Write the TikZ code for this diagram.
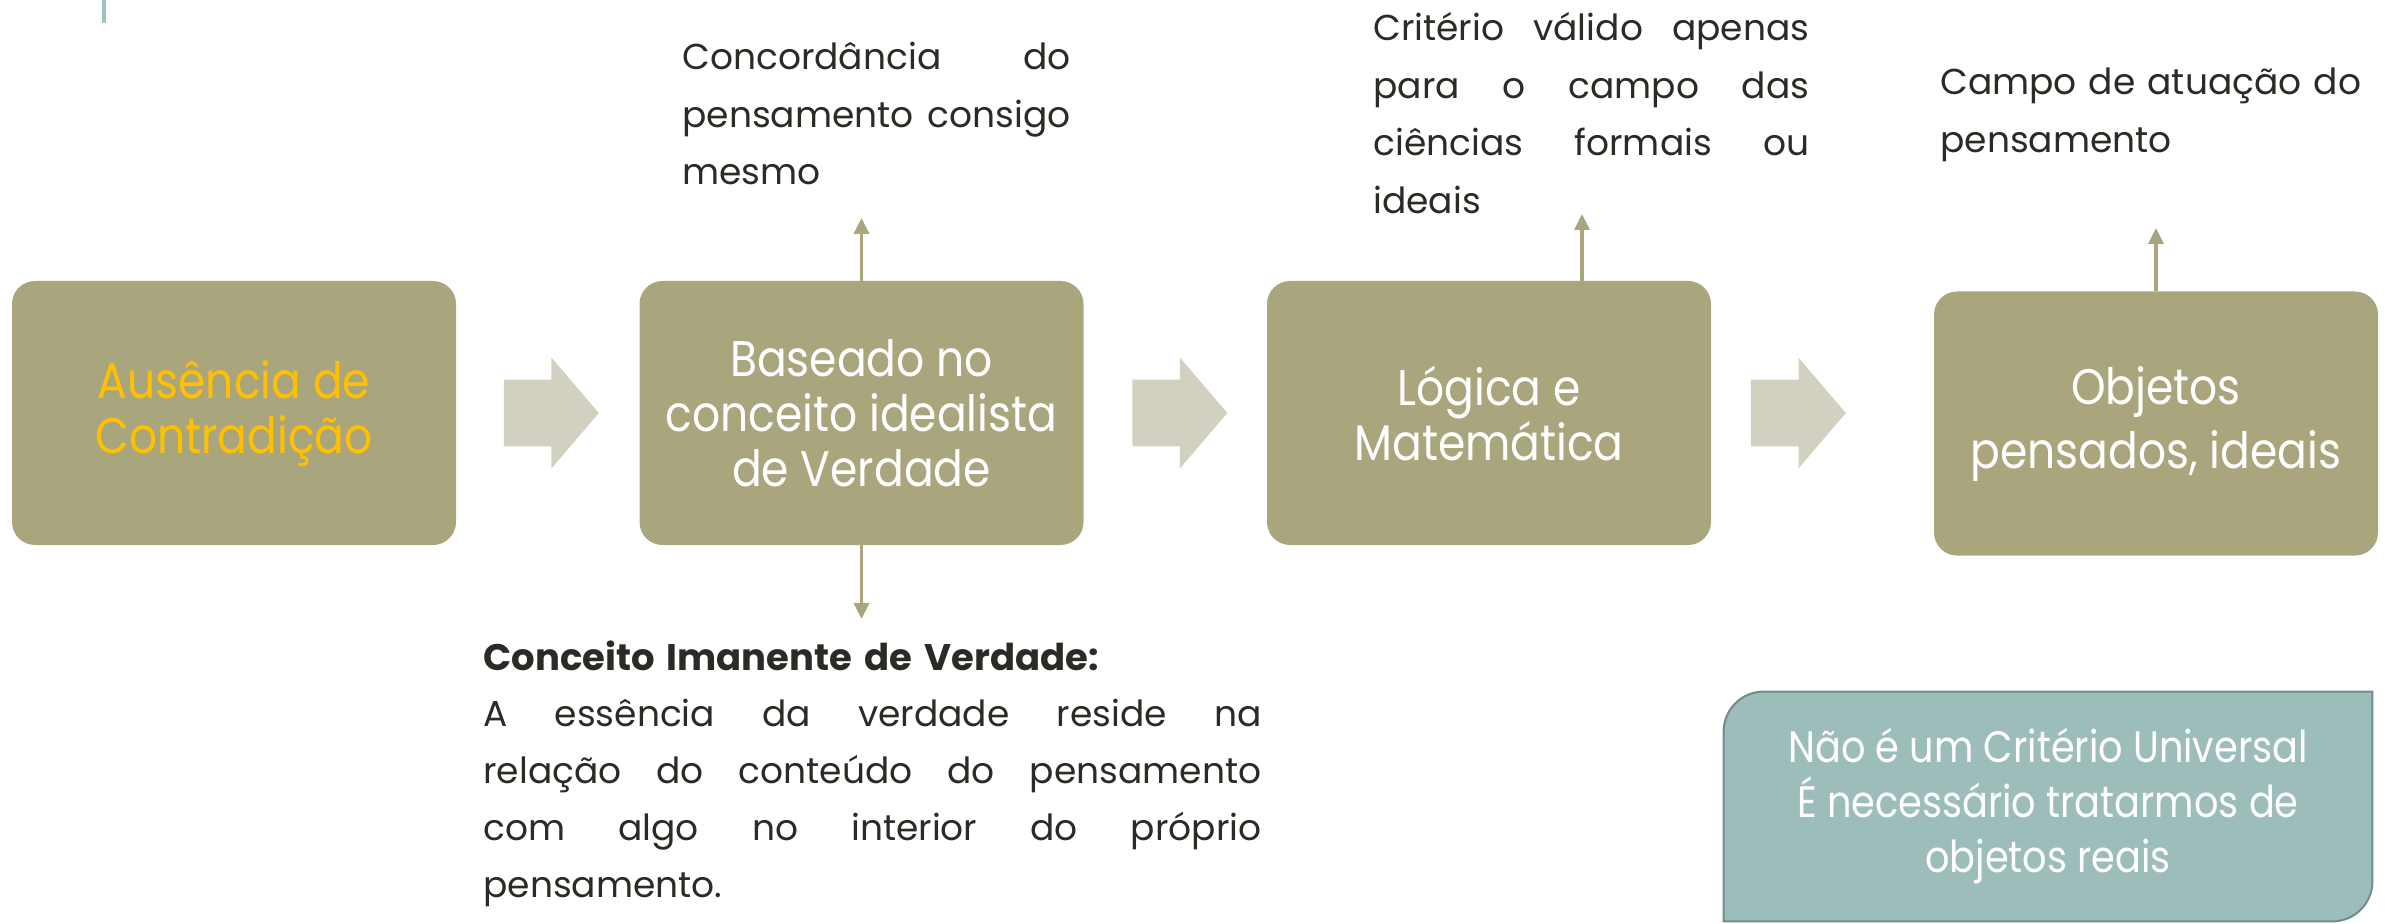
\documentclass[tikz,border=0pt]{standalone}
\usepackage{fontspec}
\setmainfont{Poppins}
\newfontfamily\boxfont[FakeStretch=0.88]{Poppins}
\newfontfamily\notefont[FakeStretch=0.87]{Poppins}
\usetikzlibrary{positioning,shapes.arrows,arrows.meta,backgrounds}

\definecolor{olive}{HTML}{A9A57C}
\definecolor{arrowgray}{HTML}{D2D1C1}
\definecolor{darktext}{HTML}{2B2A24}
\definecolor{gold}{HTML}{FFC000}
\definecolor{tealfill}{HTML}{9DBDBB}
\definecolor{tealline}{HTML}{6E8E8C}
\definecolor{tealbar}{HTML}{9EC4C1}

\newcommand{\jline}[1]{\makebox[\linewidth][s]{\spaceskip=0pt #1}}

\begin{document}
\begin{tikzpicture}[x=0.5pt,y=0.5pt,
  stepbox/.style={fill=olive,rounded corners=11.5pt,minimum width=222pt,minimum height=132pt,
    align=center,text=white,inner sep=0pt,font=\boxfont\fontsize{25}{27.5}\selectfont},
  flow/.style={single arrow,fill=arrowgray,inner xsep=0pt,inner ysep=16.5pt,minimum height=47.5pt,
    single arrow head extend=11pt,single arrow tip angle=99,anchor=tail},
  link/.style={draw=olive,line width=1.75pt,-{Triangle[width=7.5pt,length=8pt]}},
  remark/.style={anchor=base west,inner sep=0pt,align=left,text=darktext,
    font=\fontsize{18}{28.7}\selectfont},
  notebox/.style={minimum width=324pt,minimum height=114.5pt,inner sep=0pt,align=center,
    text=white,font=\notefont\fontsize{22}{27.5}\selectfont}]
\useasboundingbox (0,0) rectangle (2399,923);
\fill[tealbar] (102,923) rectangle (106,900);

\node[stepbox,text=gold] (b1) at (234,510) {Ausência de\\Contradição};
\node[stepbox] (b2) at (861.5,510) {Baseado no\\conceito idealista\\de Verdade};
\node[stepbox] (b3) at (1489,510) {Lógica e\\Matemática};
\node[stepbox,font=\boxfont\fontsize{25}{32}\selectfont] (b4) at (2156,499.5) {Objetos\\pensados, ideais};

\node[flow] (f1) at ([xshift=23.5pt]b1.east) {};
\node[flow] (f2) at ([xshift=24pt]b2.east) {};
\node[flow] (f3) at ([xshift=19.5pt]b3.east) {};

\node[remark,text width=194pt] (t2) at (682,853)
  {\jline{Concordância do}\\\jline{pensamento consigo}\\mesmo};
\node[remark,text width=218pt] (t3) at (1373,882)
  {\jline{Critério válido apenas}\\\jline{para o campo das}\\\jline{ciências formais ou}\\ideais};
\node[remark,text width=226pt,font=\fontsize{18}{29}\selectfont] (t4) at (1940,828)
  {Campo de atuação do\\pensamento};
\node[remark,text width=389pt,font=\fontsize{18}{28.4}\selectfont] (t5) at (483,253)
  {{\fontsize{18.5}{28.4}\selectfont\bfseries Conceito Imanente de Verdade:}\\\jline{A essência da verdade reside na}\\
   \jline{relação do conteúdo do pensamento}\\\jline{com algo no interior do próprio}\\pensamento.};

\coordinate (u2) at (861.5,705);
\coordinate (d2) at (861.5,304);
\coordinate (u3) at (1582,709);
\coordinate (u4) at (2156,695);
\draw[link] (b2.north) -- (u2);
\draw[link] (b2.south) -- (d2);
\draw[link] ([xshift=46.5pt]b3.north) -- (u3);
\draw[link] (b4.north) -- (u4);

\node[notebox] (n) at (2048,116.5) {Não é um Critério Universal\\É necessário tratarmos de\\objetos reais};
\begin{scope}[on background layer]
\draw[fill=tealfill,draw=tealline,line width=1pt] (n.south west) -- ([yshift=-20pt]n.north west)
  arc[start angle=180,end angle=90,radius=20pt] -- (n.north east) -- ([yshift=20pt]n.south east)
  arc[start angle=0,end angle=-90,radius=20pt] -- cycle;
\end{scope}
\end{tikzpicture}
\end{document}
